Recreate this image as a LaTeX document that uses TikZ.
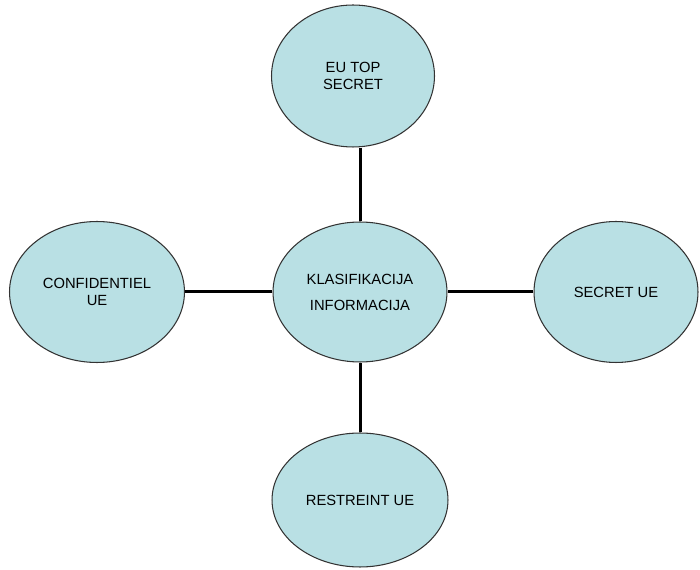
\documentclass[tikz,border=0pt]{standalone}
\usepackage{fontspec}
\setmainfont{Liberation Sans}
\usepackage{xcolor}
\usetikzlibrary{shapes.geometric}

\definecolor{bubblefill}{RGB}{185,224,228}

\begin{document}
\begin{tikzpicture}[
    x=0.02cm, y=-0.02cm,
    every node/.style={font=\fontsize{8.4}{9.8}\selectfont},
    bubble/.style={ellipse, draw=black!80, line width=0.6pt, fill=bubblefill, inner sep=0pt, align=center},
    link/.style={line width=0.06cm, black}
]
  \useasboundingbox (0,0) rectangle (700,570);

  \node[bubble, minimum width=3.26cm, minimum height=2.84cm] (top) at (353, 76) {EU TOP\\SECRET};
  \node[bubble, minimum width=3.48cm, minimum height=2.80cm] (mid) at (360,292) {KLASIFIKACIJA\\[5pt]INFORMACIJA};
  \node[bubble, minimum width=3.50cm, minimum height=2.82cm] (left) at ( 97,292) {CONFIDENTIEL\\UE};
  \node[bubble, minimum width=3.28cm, minimum height=2.82cm] (right) at (616,292) {SECRET UE};
  \node[bubble, minimum width=3.52cm, minimum height=2.68cm] (bottom) at (360,500) {RESTREINT UE};

  \draw[link] (mid.north) -- (mid.north |- top.south);
  \draw[link] (mid.south) -- (bottom.north);
  \draw[link] (mid.west) -- (left.east);
  \draw[link] (mid.east) -- (right.west);
\end{tikzpicture}
\end{document}
